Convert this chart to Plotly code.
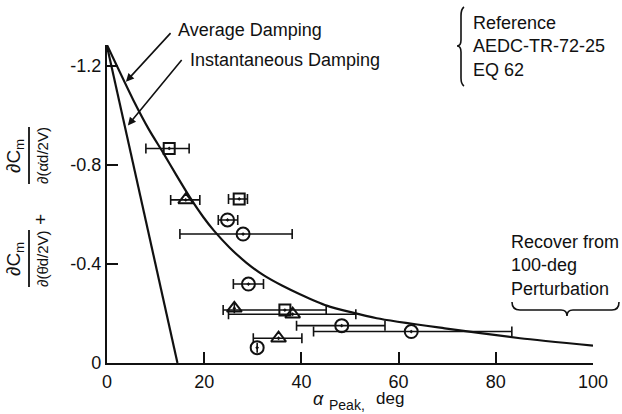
import plotly.graph_objects as go

# ---------------- data ----------------
avg_x = [0, 5.4, 8.7, 11.6, 14.3, 17.1, 19.8, 22.0, 25.3, 28.7, 32.2, 36.0, 39.7, 45.2, 55.5, 69.5, 85.0, 100]
avg_y = [-1.285, -1.063, -0.941, -0.848, -0.758, -0.668, -0.590, -0.535, -0.465, -0.405, -0.355, -0.313, -0.278, -0.232, -0.181, -0.140, -0.100, -0.070]

inst_x = [0, 14.5]
inst_y = [-1.28, 0]

sq_x = [12.8, 27.2, 36.6]
sq_y = [-0.867, -0.663, -0.214]
sq_lo = [8.0, 25.0, 23.9]
sq_hi = [16.9, 28.9, 45.1]

tri_x = [16.2, 26.2, 38.2, 35.3]
tri_y = [-0.659, -0.221, -0.197, -0.100]
tri_lo = [13.1, 26.2, 25.0, 30.1]
tri_hi = [19.1, 26.2, 51.2, 40.1]

cir_x = [24.8, 28.0, 29.1, 48.3, 62.6, 30.9]
cir_y = [-0.578, -0.521, -0.319, -0.151, -0.127, -0.062]
cir_lo = [22.9, 15.0, 26.0, 39.0, 42.5, 30.9]
cir_hi = [26.9, 38.1, 32.2, 57.2, 83.3, 30.9]

x_ticks = [0, 20, 40, 60, 80, 100]
y_ticks = [-1.2, -0.8, -0.4, 0]
y_ticktext = ["-1.2", "-0.8", "-0.4", "0"]

# ---------------- layout helpers ----------------
W, H = 622, 414
L, R, T, B = 107, 29, 45, 51
PW, PH = W - L - R, H - T - B


def PX(px):
    return (px - L) / PW


def PY(py):
    return (H - B - py) / PH


FONT = "Liberation Sans, Arial, sans-serif"
BLACK = "#111"

fig = go.Figure()

fig.add_trace(go.Scatter(x=inst_x, y=inst_y, mode="lines",
                         line=dict(color=BLACK, width=2.2), hoverinfo="skip",
                         showlegend=False, cliponaxis=False))
fig.add_trace(go.Scatter(x=avg_x, y=avg_y, mode="lines", line_shape="spline",
                         line=dict(color=BLACK, width=2.2, smoothing=0.6),
                         hoverinfo="skip", showlegend=False, cliponaxis=False))


def add_series(xs, ys, lo, hi, symbol, size):
    plus = [h - x for h, x in zip(hi, xs)]
    minus = [x - l for l, x in zip(lo, xs)]
    fig.add_trace(go.Scatter(
        x=xs, y=ys, mode="markers", showlegend=False, cliponaxis=False,
        marker=dict(symbol=symbol, size=size, color=BLACK,
                    line=dict(color=BLACK, width=2)),
        error_x=dict(type="data", symmetric=False, array=plus, arrayminus=minus,
                     color=BLACK, thickness=1.6, width=5),
    ))


add_series(sq_x, sq_y, sq_lo, sq_hi, "square-open-dot", 11)
add_series(tri_x, tri_y, tri_lo, tri_hi, "triangle-up-open-dot", 13)
add_series(cir_x, cir_y, cir_lo, cir_hi, "circle-open-dot", 13)

annotations = []
shapes = []

# arrows to curves
annotations.append(dict(x=3.9, y=-1.137, xref="x", yref="y", ax=46, ay=-50,
                        showarrow=True, arrowhead=2, arrowsize=1, arrowwidth=1.6,
                        arrowcolor=BLACK, text=""))
annotations.append(dict(x=4.3, y=-0.96, xref="x", yref="y", ax=55, ay=-67,
                        showarrow=True, arrowhead=2, arrowsize=1, arrowwidth=1.6,
                        arrowcolor=BLACK, text=""))

annotations.append(dict(x=PX(176), y=PY(30), xref="paper", yref="paper",
                        text="Average Damping", showarrow=False, xanchor="left",
                        yanchor="middle", font=dict(size=18, family=FONT, color=BLACK)))
annotations.append(dict(x=PX(188), y=PY(60), xref="paper", yref="paper",
                        text="Instantaneous Damping", showarrow=False, xanchor="left",
                        yanchor="middle", font=dict(size=18, family=FONT, color=BLACK)))

annotations.append(dict(x=PX(471), y=PY(46), xref="paper", yref="paper",
                        text="Reference<br>AEDC-TR-72-25<br>EQ 62", showarrow=False,
                        xanchor="left", yanchor="middle", align="left",
                        font=dict(size=18, family=FONT, color=BLACK)))
annotations.append(dict(x=PX(509), y=PY(265), xref="paper", yref="paper",
                        text="Recover from<br>100-deg<br>Perturbation", showarrow=False,
                        xanchor="left", yanchor="middle", align="left",
                        font=dict(size=18, family=FONT, color=BLACK)))

# braces
lb = ("M {a},{b} Q {c},{d} {c},{e} L {c},{f} Q {c},{g} {h},{g} "
      "Q {c},{g} {c},{i} L {c},{j} Q {c},{k} {a},{l}").format(
    a=PX(464), b=PY(7), c=PX(461), d=PY(9), e=PY(16), f=PY(40), g=PY(46),
    h=PX(457), i=PY(52), j=PY(78), k=PY(84), l=PY(86))
shapes.append(dict(type="path", xref="paper", yref="paper", path=lb,
                   line=dict(color=BLACK, width=1.6)))

ub = ("M {a},{b} Q {a},{c} {d},{c} L {e},{c} Q {f},{c} {f},{g} "
      "Q {f},{c} {h},{c} L {i},{c} Q {j},{c} {j},{b}").format(
    a=PX(512), b=PY(302), c=PY(310), d=PX(520), e=PX(561), f=PX(567), g=PY(316),
    h=PX(573), i=PX(612), j=PX(619))
shapes.append(dict(type="path", xref="paper", yref="paper", path=ub,
                   line=dict(color=BLACK, width=1.6)))

# y-axis title built from rotated pieces
yt_font = dict(size=15, family=FONT, color=BLACK)
num_font = dict(size=19, family=FONT, color=BLACK)
for (cy, bar0, bar1, den) in [(156, 127, 184, "∂(α̇d/2V)"), (259, 230, 287, "∂(θ̇d/2V)")]:
    annotations.append(dict(x=PX(15), y=PY(cy), xref="paper", yref="paper",
                            text="∂C<sub>m</sub>", textangle=-90, showarrow=False,
                            xanchor="center", yanchor="middle", font=num_font))
    annotations.append(dict(x=PX(42), y=PY(cy), xref="paper", yref="paper",
                            text=den, textangle=-90, showarrow=False,
                            xanchor="center", yanchor="middle", font=yt_font))
    shapes.append(dict(type="line", xref="paper", yref="paper",
                       x0=PX(29), x1=PX(29), y0=PY(bar0), y1=PY(bar1),
                       line=dict(color=BLACK, width=1.8)))
annotations.append(dict(x=PX(40), y=PY(220), xref="paper", yref="paper",
                        text="+", textangle=-90, showarrow=False,
                        xanchor="center", yanchor="middle", font=num_font))

# x-axis title
annotations.append(dict(x=PX(318), y=PY(399), xref="paper", yref="paper",
                        text="<i>α</i>", showarrow=False, xanchor="center",
                        yanchor="middle", font=dict(size=18, family=FONT, color=BLACK)))
annotations.append(dict(x=PX(327), y=PY(405), xref="paper", yref="paper",
                        text="Peak,", showarrow=False, xanchor="left",
                        yanchor="middle", font=dict(size=14, family=FONT, color=BLACK)))
annotations.append(dict(x=PX(374), y=PY(398), xref="paper", yref="paper",
                        text="deg", showarrow=False, xanchor="left",
                        yanchor="middle", font=dict(size=17, family=FONT, color=BLACK)))

fig.update_layout(
    width=W, height=H,
    margin=dict(l=L, r=R, t=T, b=B, pad=0),
    paper_bgcolor="white", plot_bgcolor="white",
    showlegend=False,
    annotations=annotations, shapes=shapes,
    font=dict(family=FONT, size=18, color=BLACK),
)
fig.update_xaxes(range=[0, 100], tickvals=x_ticks, ticks="inside", ticklen=11,
                 tickwidth=2, tickcolor=BLACK, showline=True, linecolor=BLACK,
                 linewidth=2.2, showgrid=False, zeroline=False, automargin=False,
                 tickfont=dict(size=18, family=FONT, color=BLACK), ticklabelstandoff=1)
fig.update_yaxes(range=[0, -1.285], tickvals=y_ticks, ticktext=y_ticktext,
                 ticks="inside", ticklen=11, tickwidth=2, tickcolor=BLACK,
                 showline=True, linecolor=BLACK, linewidth=2.2, showgrid=False,
                 zeroline=False, automargin=False,
                 tickfont=dict(size=18, family=FONT, color=BLACK),
                 ticklabelstandoff=0)

fig.write_html("out.html", config={"displayModeBar": False},
               post_script="document.body.style.margin='0px';document.body.style.overflow='hidden';")
